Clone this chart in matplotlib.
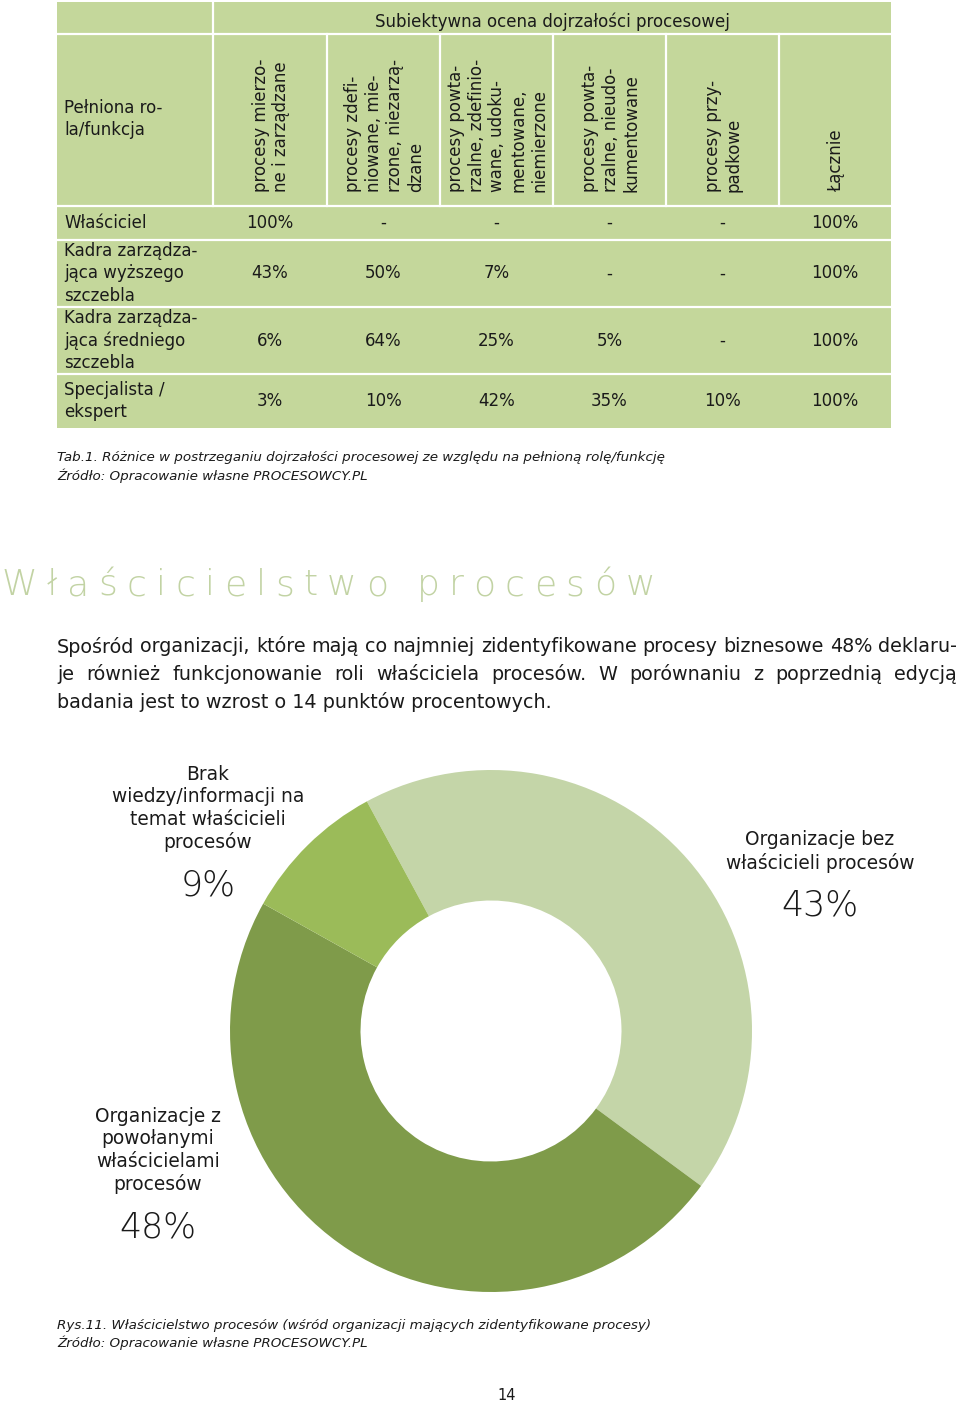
import numpy as np
import matplotlib.pyplot as plt
from matplotlib.patches import Rectangle

plt.rcParams['font.family'] = ['DejaVu Sans']

# --- table data ---
group_title = 'Subiektywna ocena dojrzałości procesowej'
corner_label = 'Pełniona ro-\nla/funkcja'
col_labels = ['procesy mierzo-\nne i zarządzane',
              'procesy zdefi-\nniowane, mie-\nrzone, niezarzą-\ndzane',
              'procesy powta-\nrzalne, zdefinio-\nwane, udoku-\nmentowane,\nniemierzone',
              'procesy powta-\nrzalne, nieudo-\nkumentowane',
              'procesy przy-\npadkowe',
              'Łącznie']
row_labels = ['Właściciel',
              'Kadra zarządza-\njąca wyższego\nszczebla',
              'Kadra zarządza-\njąca średniego\nszczebla',
              'Specjalista /\nekspert']
table_values = [['100%', '-', '-', '-', '-', '100%'],
                ['43%', '50%', '7%', '-', '-', '100%'],
                ['6%', '64%', '25%', '5%', '-', '100%'],
                ['3%', '10%', '42%', '35%', '10%', '100%']]

# --- donut data ---
share_labels = ['Organizacje bez\nwłaścicieli procesów',
                'Organizacje z\npowołanymi\nwłaścicielami\nprocesów',
                'Brak\nwiedzy/informacji na\ntemat właścicieli\nprocesów']
share_values = [43, 48, 9]
share_colors = ['#c4d5a8', '#7f9b4a', '#9bbb59']

heading = 'Właścicielstwo procesów'
paragraph = ['Spośród organizacji, które mają co najmniej zidentyfikowane procesy biznesowe 48% deklaru-',
             'je również funkcjonowanie roli właściciela procesów. W porównaniu z poprzednią edycją',
             'badania jest to wzrost o 14 punktów procentowych.']
tab_caption = ['Tab.1. Różnice w postrzeganiu dojrzałości procesowej ze względu na pełnioną rolę/funkcję',
               'Źródło: Opracowanie własne PROCESOWCY.PL']
fig_caption = ['Rys.11. Właścicielstwo procesów (wśród organizacji mających zidentyfikowane procesy)',
               'Źródło: Opracowanie własne PROCESOWCY.PL']

table_green = '#c4d79b'
txt = '#1a1a1a'

fig = plt.figure(figsize=(9.6, 14.05), dpi=100)
ax = fig.add_axes([0, 0, 1, 1])
ax.set_xlim(0, 960)
ax.set_ylim(1405, 0)
ax.axis('off')

# table grid
col_x = [57, 213, 327, 440, 553, 666, 779, 891]
row_y = [2, 34, 206, 240, 307, 374, 428]
ax.add_patch(Rectangle((col_x[0], row_y[0]), col_x[-1] - col_x[0], row_y[-1] - row_y[0],
                       facecolor=table_green, edgecolor='none'))
for y in row_y[1:-1]:
    ax.plot([col_x[0], col_x[-1]], [y, y], color='white', lw=1.6)
ax.plot([col_x[1], col_x[1]], [row_y[0], row_y[2]], color='white', lw=1.6)
for x in col_x[2:-1]:
    ax.plot([x, x], [row_y[1], row_y[2]], color='white', lw=1.6)

fs_tab = 12
ax.text((col_x[1] + col_x[-1]) / 2, 22, group_title, ha='center', va='center',
        fontsize=fs_tab, color=txt)
ax.text(64, 119, corner_label, ha='left', va='center', fontsize=fs_tab, color=txt,
        linespacing=1.3)
for i, lab in enumerate(col_labels):
    cx = (col_x[i + 1] + col_x[i + 2]) / 2
    ax.text(cx + 1, 192, lab, rotation=90, ha='center', va='bottom', fontsize=fs_tab,
            color=txt, multialignment='left', linespacing=1.2)
for r, lab in enumerate(row_labels):
    cy = (row_y[r + 2] + row_y[r + 3]) / 2
    ax.text(64, cy, lab, ha='left', va='center', fontsize=fs_tab, color=txt, linespacing=1.3)
    for c, v in enumerate(table_values[r]):
        cx = (col_x[c + 1] + col_x[c + 2]) / 2
        ax.text(cx, cy, v, ha='center', va='center', fontsize=fs_tab, color=txt)

for k, line in enumerate(tab_caption):
    ax.text(57, 457 + 19 * k, line, ha='left', va='center', fontsize=9.7, style='italic', color=txt)

renderer = fig.canvas.get_renderer()

# spaced heading
fs_head = 26
chars = [ax.text(0, 585, ch, ha='left', va='center', fontsize=fs_head, fontweight='light',
                 color='#c2d3a4') for ch in heading]
widths = [0 if ch == ' ' else t.get_window_extent(renderer).width for ch, t in zip(heading, chars)]
space_w = 10
total = sum(w if ch != ' ' else space_w for ch, w in zip(heading, widths))
track = (653 - total) / (len(heading) - 1)
x = 2
for ch, t, w in zip(heading, chars, widths):
    t.set_x(x)
    x += (space_w if ch == ' ' else w) + track

# justified paragraph
fs_par = 13.8
for k, line in enumerate(paragraph):
    y = 647 + 27.5 * k
    if k == len(paragraph) - 1:
        ax.text(57, y, line, ha='left', va='center', fontsize=fs_par, color=txt)
        continue
    words = line.split()
    ts = [ax.text(0, y, w, ha='left', va='center', fontsize=fs_par, color=txt) for w in words]
    ws = [t.get_window_extent(renderer).width for t in ts]
    gap = (957 - 57 - sum(ws)) / (len(words) - 1)
    x = 57
    for t, w in zip(ts, ws):
        t.set_x(x)
        x += w + gap

# donut
cx, cy, rad = 491, 1031, 261
ax2 = fig.add_axes([(cx - rad) / 960, (1405 - cy - rad) / 1405, 2 * rad / 960, 2 * rad / 1405])
ax2.pie(share_values, colors=share_colors, startangle=118.4, counterclock=False,
        wedgeprops=dict(width=0.5, linewidth=0))
ax2.set_xlim(-1, 1)
ax2.set_ylim(-1, 1)

label_pos = [(820, 841, 905), (158, 1118, 1228), (208, 776, 886)]
for lab, val, (lx, ly, py) in zip(share_labels, share_values, label_pos):
    ax.text(lx, ly - 11, lab, ha='center', va='top', fontsize=13.4, color=txt, linespacing=1.22)
    ax.text(lx, py, f'{val}%', ha='center', va='center', fontsize=25, fontweight='light',
            color=txt)

for k, line in enumerate(fig_caption):
    ax.text(57, 1326 + 17 * k, line, ha='left', va='center', fontsize=9.7, style='italic', color=txt)

ax.text(507, 1396, '14', ha='center', va='center', fontsize=10.5, color=txt)

plt.savefig('out.png', dpi=100)
